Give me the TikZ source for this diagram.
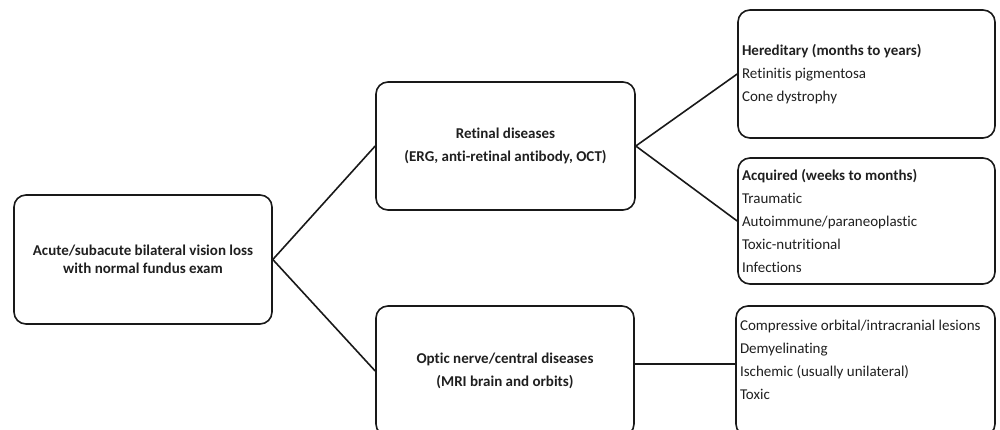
\documentclass[tikz,border=0pt]{standalone}
\usepackage{fontspec}
\setmainfont{Carlito}[Ligatures=NoCommon]
\usetikzlibrary{positioning}

\begin{document}
\begin{tikzpicture}[x=1pt,y=-1pt,
  box/.style={draw=black!90,line width=1.6pt,rounded corners=12pt,inner sep=4pt,text=black!88,font=\fontsize{15}{23}\selectfont},
  midbox/.style={box,minimum width=258pt,minimum height=128pt,align=flush center,font=\bfseries\fontsize{15}{23}\selectfont},
  listbox/.style={box,text width=249pt,minimum height=127pt,align=flush left},
  link/.style={draw=black!90,line width=1.6pt}]
  \useasboundingbox (0,0) rectangle (1000,429);
  \node[midbox,minimum height=129pt,font=\bfseries\fontsize{15}{18}\selectfont] (src) at (143,259.5)
    {Acute/subacute bilateral vision loss\\with normal fundus exam};
  \node[midbox,minimum width=259pt] (ret) at (505.5,146)
    {Retinal diseases\\(ERG, anti-retinal antibody, OCT)};
  \node[midbox,minimum height=130pt] (opt) at (505,371)
    {Optic nerve/central diseases\\(MRI brain and orbits)};
  \node[listbox,minimum height=128pt] (her) at (866.5,74)
    {\textbf{Hereditary (months to years)}\\Retinitis pigmentosa\\Cone dystrophy};
  \node[listbox,minimum height=126pt] (acq) at (866.5,221)
    {\textbf{Acquired (weeks to months)}\\Traumatic\\Autoimmune/paraneoplastic\\Toxic-nutritional\\Infections};
  \node[listbox,text width=251pt,minimum height=130pt] (cen) at (865.5,371)
    {Compressive orbital/intracranial lesions\\Demyelinating\\Ischemic (usually unilateral)\\Toxic\\\mbox{}};
  \draw[link] (src.east) -- (ret.west);
  \draw[link] (src.east) -- (opt.west);
  \draw[link] (ret.east) -- (her.west);
  \draw[link] (ret.east) -- (acq.west);
  \draw[link] ([yshift=7pt]opt.east) -- ([yshift=7pt]cen.west);
\end{tikzpicture}
\end{document}
